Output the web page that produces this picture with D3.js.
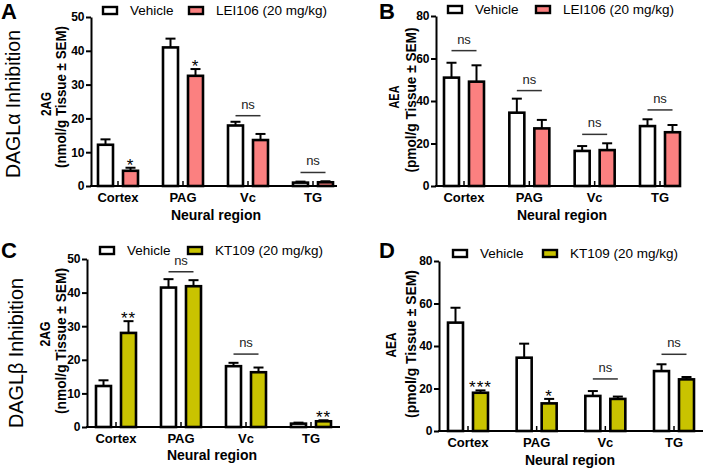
<!DOCTYPE html>
<html lang="en">
<head>
<meta charset="utf-8">
<title>DAGL inhibition - 2AG and AEA by neural region</title>
<script src="https://cdnjs.cloudflare.com/ajax/libs/d3/7.8.5/d3.min.js"></script>
<style>
  body { margin: 0; background: #fff; }
  svg text { font-family: "Liberation Sans", Arial, sans-serif; }
</style>
</head>
<body>
<script>
// categories
var regions = ["Cortex", "PAG", "Vc", "TG"];

// Panel A: 2AG, LEI106
var vehA = [12.2, 41.0, 17.9, 1.0];
var vehAErr = [1.6, 2.6, 1.1, 0.3];
var leiA = [4.5, 32.6, 13.6, 1.1];
var leiAErr = [0.9, 2.0, 1.8, 0.3];
var sigA = ["*", "*", "ns", "ns"];
var nsLevelA = [null, null, 20.8, 4.0];

// Panel B: AEA, LEI106
var vehB = [51.0, 34.5, 16.5, 28.2];
var vehBErr = [7.0, 6.6, 2.3, 3.2];
var leiB = [49.1, 27.1, 16.9, 25.3];
var leiBErr = [7.7, 4.0, 3.2, 3.4];
var sigB = ["ns", "ns", "ns", "ns"];
var nsLevelB = [63.7, 44.9, 24.3, 35.8];

// Panel C: 2AG, KT109
var vehC = [12.2, 41.5, 18.1, 1.0];
var vehCErr = [1.7, 2.5, 1.0, 0.3];
var ktC = [28.0, 41.9, 16.3, 1.7];
var ktCErr = [3.5, 1.8, 1.4, 0.3];
var sigC = ["**", "ns", "ns", "**"];
var nsLevelC = [null, 46.2, 21.7, null];

// Panel D: AEA, KT109
var vehD = [51.0, 34.5, 16.5, 28.2];
var vehDErr = [7.0, 6.6, 2.3, 3.2];
var ktD = [18.0, 13.0, 15.1, 24.3];
var ktDErr = [1.1, 2.1, 1.1, 1.1];
var sigD = ["***", "*", "ns", "ns"];
var nsLevelD = [null, null, 24.5, 36.1];

var ticks2AG = [0, 10, 20, 30, 40, 50];
var ticksAEA = [0, 20, 40, 60, 80];

var pink = "#fb8080";
var olive = "#c9c300";

var svg = d3.select("body").append("svg")
  .attr("width", 706)
  .attr("height", 470);

// layout of each panel (pixels)
var panels = [
  { letter: "A", lx: 1, ly: 19, ax: 91, xEnd: 337, y0: 186, yTop: 17, c0: 27, c3: 222,
    ymax: 50, ticks: ticks2AG, veh: vehA, vehErr: vehAErr, trt: leiA, trtErr: leiAErr,
    sig: sigA, nsLevel: nsLevelA, color: pink, trtName: "LEI106 (20 mg/kg)",
    yl1: "2AG", yl2: "(nmol/g Tissue \u00b1 SEM)",
    t1: [50.5, 104, 24], t2: [66, 97, 142],
    legX: 103, legY: 14, legX2: 189, xlabX: 216, xlabY: 220 },
  { letter: "B", lx: 379, ly: 19, ax: 436, xEnd: 681, y0: 186, yTop: 16, c0: 28, c3: 224,
    ymax: 80, ticks: ticksAEA, veh: vehB, vehErr: vehBErr, trt: leiB, trtErr: leiBErr,
    sig: sigB, nsLevel: nsLevelB, color: pink, trtName: "LEI106 (20 mg/kg)",
    yl1: "AEA", yl2: "(pmol/g Tissue \u00b1 SEM)",
    t1: [398.5, 97, 23], t2: [415.5, 100, 145],
    legX: 448, legY: 13, legX2: 536, xlabX: 562, xlabY: 220 },
  { letter: "C", lx: 1, ly: 258, ax: 87, xEnd: 340, y0: 427, yTop: 259, c0: 29, c3: 224,
    ymax: 50, ticks: ticks2AG, veh: vehC, vehErr: vehCErr, trt: ktC, trtErr: ktCErr,
    sig: sigC, nsLevel: nsLevelC, color: olive, trtName: "KT109 (20 mg/kg)",
    yl1: "2AG", yl2: "(nmol/g Tissue \u00b1 SEM)",
    t1: [50, 334, 25], t2: [65.5, 341, 146],
    legX: 100, legY: 254, legX2: 188, xlabX: 212, xlabY: 460 },
  { letter: "D", lx: 379, ly: 258, ax: 439, xEnd: 703, y0: 431, yTop: 261, c0: 29, c3: 235,
    ymax: 80, ticks: ticksAEA, veh: vehD, vehErr: vehDErr, trt: ktD, trtErr: ktDErr,
    sig: sigD, nsLevel: nsLevelD, color: olive, trtName: "KT109 (20 mg/kg)",
    yl1: "AEA", yl2: "(pmol/g Tissue \u00b1 SEM)",
    t1: [396, 345, 25], t2: [415.5, 344, 148],
    legX: 453, legY: 257, legX2: 543, xlabX: 570, xlabY: 465 }
];

// side titles
svg.append("text")
  .attr("transform", "translate(20,104) rotate(-90)")
  .attr("text-anchor", "middle")
  .attr("textLength", 148).attr("lengthAdjust", "spacingAndGlyphs")
  .style("font-size", "21px")
  .text("DAGL\u03b1 Inhibition");
svg.append("text")
  .attr("transform", "translate(23,353) rotate(-90)")
  .attr("text-anchor", "middle")
  .attr("textLength", 150).attr("lengthAdjust", "spacingAndGlyphs")
  .style("font-size", "21px")
  .text("DAGL\u03b2 Inhibition");

var barW = 15, gap = 5;

panels.forEach(function(p) {
  var g = svg.append("g");

  var x = d3.scalePoint().domain(regions).range([p.ax + p.c0, p.ax + p.c3]);
  var y = d3.scaleLinear().domain([0, p.ymax]).range([p.y0, p.yTop]);

  // panel letter
  g.append("text").attr("x", p.lx).attr("y", p.ly)
    .style("font-size", "22px").style("font-weight", "bold").text(p.letter);

  // bars with error bars
  var series = [
    { vals: p.veh, errs: p.vehErr, fill: "#fff", off: -(gap + barW) },
    { vals: p.trt, errs: p.trtErr, fill: p.color, off: gap }
  ];
  series.forEach(function(s) {
    g.selectAll(null).data(regions).enter().append("line")
      .attr("x1", function(d) { return x(d) + s.off + barW / 2; })
      .attr("x2", function(d) { return x(d) + s.off + barW / 2; })
      .attr("y1", function(d, i) { return y(s.vals[i]); })
      .attr("y2", function(d, i) { return y(s.vals[i] + s.errs[i]); })
      .attr("stroke", "#000").attr("stroke-width", 2);
    g.selectAll(null).data(regions).enter().append("line")
      .attr("x1", function(d) { return x(d) + s.off + barW / 2 - 5; })
      .attr("x2", function(d) { return x(d) + s.off + barW / 2 + 5; })
      .attr("y1", function(d, i) { return y(s.vals[i] + s.errs[i]); })
      .attr("y2", function(d, i) { return y(s.vals[i] + s.errs[i]); })
      .attr("stroke", "#000").attr("stroke-width", 2);
    g.selectAll(null).data(regions).enter().append("rect")
      .attr("x", function(d) { return x(d) + s.off; })
      .attr("y", function(d, i) { return y(s.vals[i]); })
      .attr("width", barW)
      .attr("height", function(d, i) { return y(0) - y(s.vals[i]); })
      .attr("fill", s.fill)
      .attr("stroke", "#000").attr("stroke-width", 2.6);
  });

  // significance marks
  regions.forEach(function(r, i) {
    var lab = p.sig[i];
    if (lab === "ns") {
      var ly = y(p.nsLevel[i]);
      g.append("line")
        .attr("x1", x(r) - gap - barW / 2).attr("x2", x(r) + gap + barW / 2)
        .attr("y1", ly).attr("y2", ly)
        .attr("stroke", "#333").attr("stroke-width", 1.5);
      g.append("text").attr("x", x(r)).attr("y", ly - 7)
        .attr("text-anchor", "middle").style("font-size", "13px")
        .attr("fill", "#222").text("ns");
    } else {
      var top = y(p.trt[i] + p.trtErr[i]);
      g.append("text").attr("x", x(r) + gap + barW / 2).attr("y", top + 3)
        .attr("text-anchor", "middle").style("font-size", "17px")
        .style("letter-spacing", "1px").text(lab);
    }
  });

  // y axis
  var yAxis = d3.axisLeft(y).tickValues(p.ticks).tickSize(5).tickSizeOuter(0).tickPadding(1.5);
  var ya = g.append("g").attr("transform", "translate(" + p.ax + ",0)").call(yAxis);
  ya.select(".domain").attr("stroke-width", 2);
  ya.selectAll(".tick line").attr("stroke-width", 2);
  ya.selectAll(".tick text")
    .style("font-size", "12px").style("font-weight", "bold")
    .style("font-family", "'Liberation Sans', Arial, sans-serif");

  // x axis
  g.append("line").attr("x1", p.ax - 1).attr("x2", p.xEnd)
    .attr("y1", p.y0).attr("y2", p.y0)
    .attr("stroke", "#000").attr("stroke-width", 2);
  g.selectAll(null).data(regions).enter().append("line")
    .attr("x1", function(d) { return x(d); }).attr("x2", function(d) { return x(d); })
    .attr("y1", p.y0).attr("y2", p.y0 - 5)
    .attr("stroke", "#000").attr("stroke-width", 1.5);
  g.selectAll(null).data(regions).enter().append("text")
    .attr("x", function(d) { return x(d); })
    .attr("y", p.y0 + 16)
    .attr("text-anchor", "middle")
    .style("font-size", "13px").style("font-weight", "bold")
    .text(function(d) { return d; });
  g.append("text").attr("x", p.xlabX).attr("y", p.xlabY)
    .attr("text-anchor", "middle")
    .style("font-size", "14px").style("font-weight", "bold")
    .text("Neural region");

  // y axis title, two lines (condensed bold)
  [[p.yl1, p.t1], [p.yl2, p.t2]].forEach(function(t) {
    g.append("text")
      .attr("transform", "translate(" + t[1][0] + "," + t[1][1] + ") rotate(-90)")
      .attr("text-anchor", "middle")
      .attr("textLength", t[1][2]).attr("lengthAdjust", "spacingAndGlyphs")
      .style("font-size", "14px").style("font-weight", "bold")
      .text(t[0]);
  });

  // legend
  var leg = [
    { x: p.legX, fill: "#fff", name: "Vehicle" },
    { x: p.legX2, fill: p.color, name: p.trtName }
  ];
  leg.forEach(function(l) {
    g.append("rect").attr("x", l.x).attr("y", p.legY - 7)
      .attr("width", 14).attr("height", 7)
      .attr("fill", l.fill).attr("stroke", "#000").attr("stroke-width", 2.4);
    g.append("text").attr("x", l.x + 27).attr("y", p.legY + 1)
      .style("font-size", "13.5px").text(l.name);
  });
});
</script>
</body>
</html>
